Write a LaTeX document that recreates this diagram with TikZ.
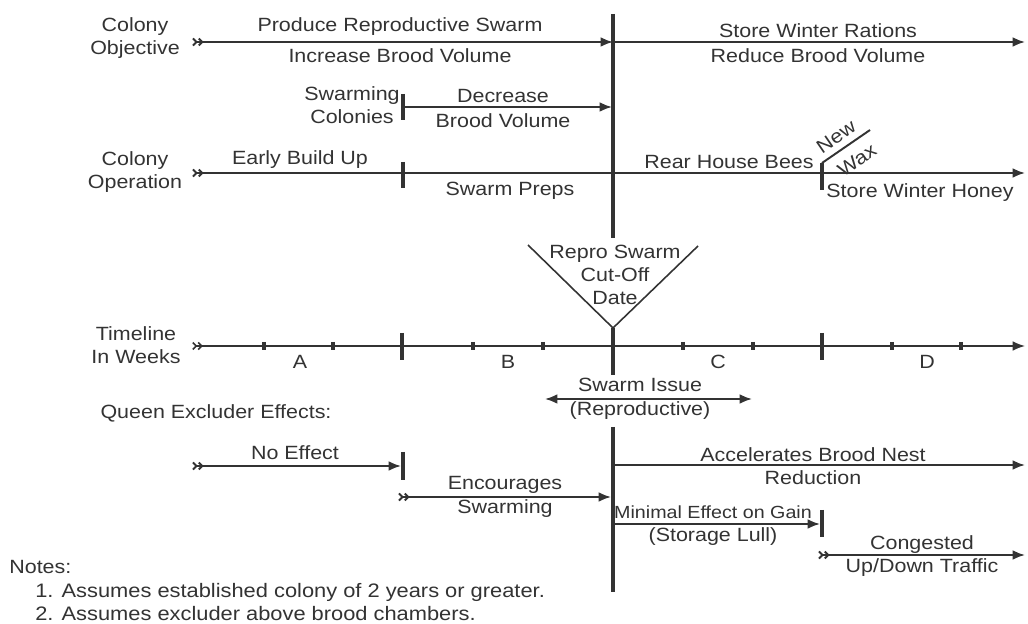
\documentclass[tikz,border=0pt]{standalone}
\usepackage{fontspec}
\setmainfont{Liberation Sans}[FakeStretch=1.12]
\usetikzlibrary{arrows.meta}
\definecolor{ink}{HTML}{333333}
\tikzset{
  txt/.style={inner sep=0pt, text=ink, align=center, font=\fontsize{10.9}{13}\selectfont},
  smalltxt/.style={txt, font=\fontsize{10}{12}\selectfont},
  notetxt/.style={inner sep=0pt, text=ink, anchor=west, font=\fontsize{11.1}{13}\selectfont},
  ln/.style={draw=ink, line width=1.1pt},
  thinln/.style={draw=ink, line width=0.9pt},
  bigln/.style={draw=ink, line width=1.8pt},
  tickln/.style={draw=ink, line width=1.8pt},
  head/.style={-{Latex[length=7pt,width=5.5pt]}},
  tailhead/.style={{Straight Barb[reversed,length=2pt,width=4pt]Straight Barb[reversed,length=2pt,width=4pt]}-{Latex[length=7pt,width=5.5pt]}},
  both/.style={{Latex[length=7pt,width=5.5pt]}-{Latex[length=7pt,width=5.5pt]}}
}
\begin{document}
\begin{tikzpicture}[x=0.02cm,y=-0.02cm]
\fill[white] (0,0) rectangle (1028,624);
\useasboundingbox (0,0) rectangle (1028,624);

% coordinates
\coordinate (vtop) at (613,14);
\coordinate (vmid) at (613,238);
\coordinate (apex) at (613,328);
\coordinate (vlow) at (613,375);
\coordinate (vq1) at (613,427);
\coordinate (vq2) at (613,592);
\coordinate (o1s) at (192,42);
\coordinate (o1e) at (613,42);
\coordinate (o2e) at (1025,42);
\coordinate (s1) at (403,107);
\coordinate (s1e) at (612,107);
\coordinate (c1s) at (192,173);
\coordinate (c1e) at (1025,173);
\coordinate (tl) at (528,245);
\coordinate (tr) at (698,246);
\coordinate (t0) at (192,346);
\coordinate (t1) at (1025,346);
\coordinate (si1) at (545,399);
\coordinate (si2) at (752,399);
\coordinate (ne1) at (192,466);
\coordinate (ne2) at (401,466);
\coordinate (en1) at (398,497);
\coordinate (en2) at (611,497);
\coordinate (ac1) at (613,465);
\coordinate (ac2) at (1025,465);
\coordinate (mi1) at (613,524);
\coordinate (mi2) at (820,524);
\coordinate (co1) at (818,555);
\coordinate (co2) at (1025,555);
\coordinate (nw1) at (822,163);
\coordinate (nw2) at (870,130);

% main vertical
\draw[bigln] (vtop) -- (vmid);
\draw[bigln] (apex) -- (vlow);
\draw[bigln] (vq1) -- (vq2);

% row 1
\draw[ln,tailhead] (o1s) -- (o1e);
\draw[ln,head] (o1e) -- (o2e);
% row 2
\draw[ln,head] (s1) -- (s1e);
\draw[tickln] (403,94) -- (403,120);
% row 3
\draw[ln,tailhead] (c1s) -- (c1e);
\draw[tickln] (403,162) -- (403,188);
\draw[tickln] (822,163) -- (822,190);
\draw[ln] (nw1) -- (nw2);

% triangle
\draw[thinln] (tl) -- (apex) -- (tr);

% timeline
\draw[thinln,tailhead] (t0) -- (t1);
\foreach \x in {264,333,473,543,683,753,892,961}
  \draw[tickln] (\x,342) -- (\x,350);
\draw[tickln] (402,333) -- (402,360);
\draw[tickln] (822,333) -- (822,360);

% swarm issue
\draw[ln,both] (si1) -- (si2);

% queen excluder
\draw[ln,tailhead] (ne1) -- (ne2);
\draw[tickln] (403,452) -- (403,480);
\draw[ln,tailhead] (en1) -- (en2);
\draw[ln,head] (ac1) -- (ac2);
\draw[ln,head] (mi1) -- (mi2);
\draw[tickln] (822,510) -- (822,537);
\draw[ln,tailhead] (co1) -- (co2);

% text
\node[txt] (lobj) at (135,38) {Colony\\Objective};
\node[txt] (lop) at (135,172) {Colony\\Operation};
\node[txt] (ltl) at (136,345) {Timeline\\In Weeks};
\node[txt] (prs) at (400,27) {Produce Reproductive Swarm};
\node[txt] (ibv) at (400,56) {Increase Brood Volume};
\node[txt] (swr) at (818,31) {Store Winter Rations};
\node[txt] (rbv) at (818,56) {Reduce Brood Volume};
\node[txt] (swc) at (352,105) {Swarming\\Colonies};
\node[txt] (dec) at (503,96) {Decrease};
\node[txt] (dbv) at (503,121) {Brood Volume};
\node[txt] (ebu) at (300,160) {Early Build Up};
\node[txt] (spr) at (510,191) {Swarm Preps};
\node[txt] (rhb) at (729,162) {Rear House Bees};
\node[txt] (swh) at (920,193) {Store Winter Honey};
\node[txt,rotate=34.5] (nwn) at (836,137) {New};
\node[txt,rotate=34.5] (nwx) at (857,160) {Wax};
\node[txt] (rsc) at (615,275) {Repro Swarm\\Cut-Off\\Date};
\node[txt] (ta) at (300,362) {A};
\node[txt] (tb) at (508,362) {B};
\node[txt] (tc) at (718,362) {C};
\node[txt] (td) at (927,362) {D};
\node[txt] (sis) at (640,385) {Swarm Issue};
\node[txt] (rep) at (640,411) {(Reproductive)};
\node[txt] (qee) at (216,413) {Queen Excluder Effects:};
\node[txt] (nef) at (295,453) {No Effect};
\node[txt] (enc) at (505,485) {Encourages};
\node[txt] (ensw) at (505,509) {Swarming};
\node[txt] (abn) at (813,455) {Accelerates Brood Nest};
\node[txt] (red) at (813,478) {Reduction};
\node[smalltxt] (meg) at (713,512) {Minimal Effect on Gain};
\node[txt] (stl) at (713,537) {(Storage Lull)};
\node[txt] (cng) at (922,545) {Congested};
\node[txt] (udt) at (922,568) {Up/Down Traffic};
\node[txt,anchor=west] (nts) at (9,567) {Notes:};
\node[notetxt] (n1) at (35,592) {1. Assumes established colony of 2 years or greater.};
\node[notetxt] (n2) at (35,614) {2. Assumes excluder above brood chambers.};
\end{tikzpicture}
\end{document}
